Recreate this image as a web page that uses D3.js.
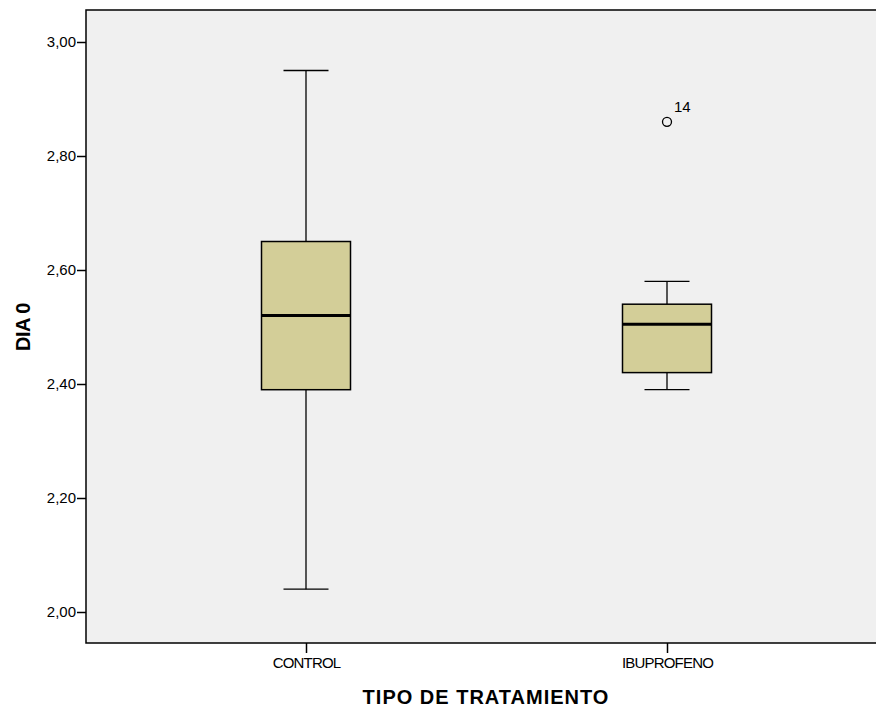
<!DOCTYPE html>
<html lang="es">
<head>
    <meta charset="UTF-8">
    <title>DIA 0 por tipo de tratamiento</title>
    <script src="https://d3js.org/d3.v7.min.js"></script>
    <style>
        body { margin: 0; background: #fff; font-family: "Liberation Sans", Arial, sans-serif; overflow: hidden; }
        svg { display: block; }
        .tick text { font-size: 15px; fill: #000; }
        .axis-title { font-weight: bold; fill: #000; }
    </style>
</head>
<body>
<svg width="876" height="708"></svg>
<script>
    // data
    const groups = ["CONTROL", "IBUPROFENO"];
    const whiskerLow = [2.04, 2.39];
    const q1 = [2.39, 2.42];
    const median = [2.52, 2.505];
    const q3 = [2.65, 2.54];
    const whiskerHigh = [2.95, 2.58];
    const outliers = [{ group: "IBUPROFENO", value: 2.86, label: "14" }];
    const yTicks = [2.0, 2.2, 2.4, 2.6, 2.8, 3.0];

    const svg = d3.select("svg");
    const plot = { left: 86, top: 10, right: 890, bottom: 643 };

    const y = d3.scaleLinear().domain([2.0, 3.0]).range([612, 42]);
    const x = d3.scalePoint().domain(groups).range([306, 667]);

    const fmt = v => d3.format(".2f")(v).replace(".", ",");

    // plot background
    svg.append("rect")
        .attr("x", plot.left).attr("y", plot.top)
        .attr("width", plot.right - plot.left).attr("height", plot.bottom - plot.top)
        .attr("fill", "#f0f0f0")
        .attr("stroke", "#000").attr("stroke-width", 1.5);

    // axes
    const yAxis = svg.append("g")
        .attr("transform", `translate(${plot.left},0)`)
        .call(d3.axisLeft(y).tickValues(yTicks).tickFormat(fmt).tickSize(9).tickPadding(1));
    yAxis.select(".domain").remove();
    yAxis.selectAll(".tick line").attr("stroke", "#000").attr("stroke-width", 1.5);

    const xAxis = svg.append("g")
        .attr("transform", `translate(0,${plot.bottom})`)
        .call(d3.axisBottom(x).tickSize(10).tickPadding(4));
    xAxis.select(".domain").remove();
    xAxis.selectAll(".tick line").attr("stroke", "#000").attr("stroke-width", 1.5);
    xAxis.selectAll(".tick text").attr("letter-spacing", "-0.8px");

    // boxes
    const boxHalf = 44.5, capHalf = 22.5;
    const data = groups.map((g, i) => ({
        g, lo: whiskerLow[i], q1: q1[i], med: median[i], q3: q3[i], hi: whiskerHigh[i]
    }));

    const box = svg.append("g").selectAll("g").data(data).join("g")
        .attr("transform", d => `translate(${x(d.g)},0)`);

    box.append("line")
        .attr("x1", 0).attr("x2", 0)
        .attr("y1", d => y(d.hi)).attr("y2", d => y(d.q3))
        .attr("stroke", "#000").attr("stroke-width", 1.3);
    box.append("line")
        .attr("x1", 0).attr("x2", 0)
        .attr("y1", d => y(d.q1)).attr("y2", d => y(d.lo))
        .attr("stroke", "#000").attr("stroke-width", 1.3);
    box.append("line")
        .attr("x1", -capHalf).attr("x2", capHalf)
        .attr("y1", d => y(d.hi)).attr("y2", d => y(d.hi))
        .attr("stroke", "#000").attr("stroke-width", 1.3);
    box.append("line")
        .attr("x1", -capHalf).attr("x2", capHalf)
        .attr("y1", d => y(d.lo)).attr("y2", d => y(d.lo))
        .attr("stroke", "#000").attr("stroke-width", 1.3);
    box.append("rect")
        .attr("x", -boxHalf).attr("width", boxHalf * 2)
        .attr("y", d => y(d.q3)).attr("height", d => y(d.q1) - y(d.q3))
        .attr("fill", "#d3ce98")
        .attr("stroke", "#000").attr("stroke-width", 1.5);
    box.append("line")
        .attr("x1", -boxHalf).attr("x2", boxHalf)
        .attr("y1", d => y(d.med)).attr("y2", d => y(d.med))
        .attr("stroke", "#000").attr("stroke-width", 3);

    // outliers
    const out = svg.append("g").selectAll("g").data(outliers).join("g");
    out.append("circle")
        .attr("cx", d => x(d.group)).attr("cy", d => y(d.value))
        .attr("r", 4.5)
        .attr("fill", "none").attr("stroke", "#000").attr("stroke-width", 1.3);
    out.append("text")
        .attr("x", d => x(d.group) + 7).attr("y", d => y(d.value) - 10)
        .attr("font-size", "15px")
        .text(d => d.label);

    // axis titles
    svg.append("text")
        .attr("class", "axis-title")
        .attr("transform", "translate(30,327) rotate(-90)")
        .attr("text-anchor", "middle")
        .attr("font-size", "20px")
        .attr("letter-spacing", "-0.5px")
        .text("DIA 0");

    svg.append("text")
        .attr("class", "axis-title")
        .attr("x", 486).attr("y", 704)
        .attr("text-anchor", "middle")
        .attr("font-size", "20px")
        .attr("letter-spacing", "1px")
        .text("TIPO DE TRATAMIENTO");
</script>
</body>
</html>
